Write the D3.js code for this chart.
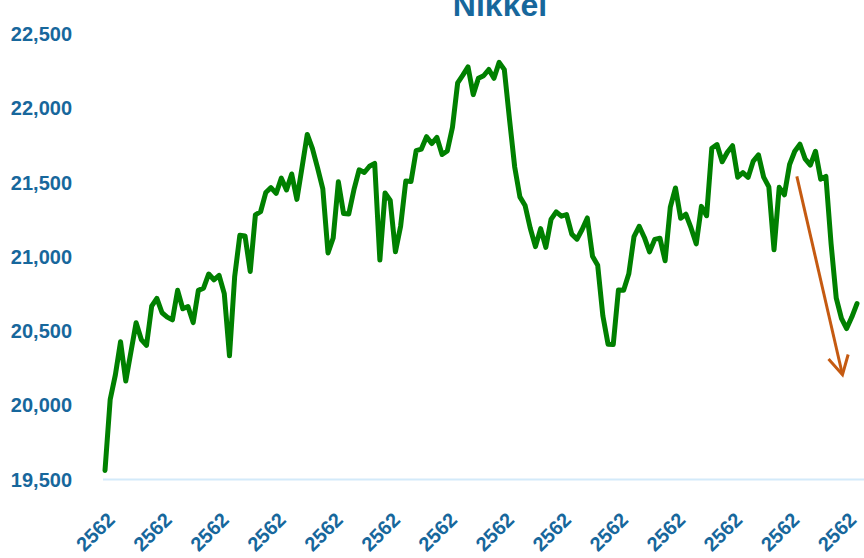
<!DOCTYPE html>
<html>
<head>
<meta charset="utf-8">
<script src="https://cdn.jsdelivr.net/npm/d3@7/dist/d3.min.js"></script>
<style>
  body { margin: 0; background: #fff; }
  svg { display: block; font-family: "Liberation Sans", Arial, sans-serif; }
</style>
</head>
<body>
<svg id="chart" width="864" height="558"></svg>
<script>
/* Data */
const chartTitle = "Nikkei";
// daily close (Jan - Aug)
const closes = [
  19561, 20038, 20204, 20427, 20163, 20359, 20555, 20442, 20402, 20666,
  20719, 20622, 20593, 20574, 20773, 20649, 20664, 20556, 20773, 20788,
  20883, 20844, 20874, 20751, 20333, 20864, 21144, 21139, 20900, 21281,
  21302, 21431, 21464, 21425, 21528, 21449, 21556, 21385, 21602, 21822,
  21726, 21596, 21456, 21025, 21125, 21503, 21290, 21287, 21450, 21584,
  21566, 21608, 21627, 20977, 21428, 21378, 21033, 21205, 21509, 21505,
  21713, 21724, 21807, 21761, 21802, 21687, 21711, 21870, 22169, 22221,
  22277, 22090, 22200, 22217, 22259, 22200, 22307, 22258, 21923, 21602,
  21402, 21344, 21191, 21067, 21188, 21062, 21250, 21301, 21272, 21283,
  21151, 21117, 21182, 21260, 21003, 20942, 20601, 20410, 20408, 20776,
  20774, 20884, 21134, 21204, 21129, 21032, 21116, 21124, 20972, 21333,
  21462, 21258, 21285, 21193, 21086, 21338, 21275, 21729, 21754, 21638,
  21702, 21746, 21534, 21565, 21533, 21643, 21685, 21535, 21469, 21046,
  21466, 21416, 21620, 21709, 21756, 21658, 21616, 21709, 21521, 21540,
  21087, 20720, 20585, 20516, 20593, 20684
];
const yTicks = [19500, 20000, 20500, 21000, 21500, 22000, 22500];
const yearLabel = "2562";   // every category label shows the (Thai) year
const labelEvery = 11;
// trend arrow, in data units: [index, value]
const arrowFrom = [133.4, 21540];
const arrowTo = [142.2, 20205];

/* Style */
const textColor = "#17679c";
const lineColor = "#008000";
const arrowColor = "#c55a11";
const axisColor = "#d3eafa";

const svg = d3.select("#chart");
const width = +svg.attr("width");

const x = d3.scaleLinear()
  .domain([0, closes.length - 1])
  .range([105, 857]);

const y = d3.scaleLinear()
  .domain([19500, 22500])
  .range([479.5, 33.7]);

// title (partly cut by the top edge, like the original)
svg.append("text")
  .attr("x", 500)
  .attr("y", 16)
  .attr("text-anchor", "middle")
  .style("font-size", "32px")
  .style("font-weight", "bold")
  .style("fill", textColor)
  .text(chartTitle);

// y axis labels
svg.append("g")
  .selectAll("text")
  .data(yTicks)
  .join("text")
    .attr("x", 72)
    .attr("y", d => y(d))
    .attr("dy", "0.36em")
    .attr("text-anchor", "end")
    .style("font-size", "20px")
    .style("font-weight", "bold")
    .style("fill", textColor)
    .text(d3.format(","));

// baseline
svg.append("line")
  .attr("x1", x(0) - 2)
  .attr("x2", width)
  .attr("y1", y(19500))
  .attr("y2", y(19500))
  .style("stroke", axisColor)
  .style("stroke-width", 2);

// x axis labels, rotated
const tickIdx = d3.range(0, closes.length, labelEvery);
svg.append("g")
  .selectAll("text")
  .data(tickIdx)
  .join("text")
    .attr("transform", d => "translate(" + (x(d) + 1) + "," + 511 + ") rotate(-45)")
    .attr("text-anchor", "end")
    .attr("dy", "0.71em")
    .style("font-size", "20px")
    .style("font-weight", "bold")
    .style("fill", textColor)
    .text(yearLabel);

// the series
const line = d3.line()
  .x((d, i) => x(i))
  .y(d => y(d));

svg.append("path")
  .datum(closes)
  .attr("d", line)
  .style("fill", "none")
  .style("stroke", lineColor)
  .style("stroke-width", 5)
  .style("stroke-linejoin", "round")
  .style("stroke-linecap", "round");

// trend arrow
const ax1 = x(arrowFrom[0]), ay1 = y(arrowFrom[1]);
const ax2 = x(arrowTo[0]), ay2 = y(arrowTo[1]);
const ang = Math.atan2(ay1 - ay2, ax1 - ax2);
const headLen = 21, headAng = 0.5;
const arrow = svg.append("g")
  .style("fill", "none")
  .style("stroke", arrowColor)
  .style("stroke-width", 3);

arrow.append("line")
  .attr("x1", ax1).attr("y1", ay1)
  .attr("x2", ax2).attr("y2", ay2);

arrow.append("path")
  .attr("d",
    "M" + (ax2 + headLen * Math.cos(ang + headAng)) + "," + (ay2 + headLen * Math.sin(ang + headAng)) +
    "L" + ax2 + "," + ay2 +
    "L" + (ax2 + headLen * Math.cos(ang - headAng)) + "," + (ay2 + headLen * Math.sin(ang - headAng)));
</script>
</body>
</html>
